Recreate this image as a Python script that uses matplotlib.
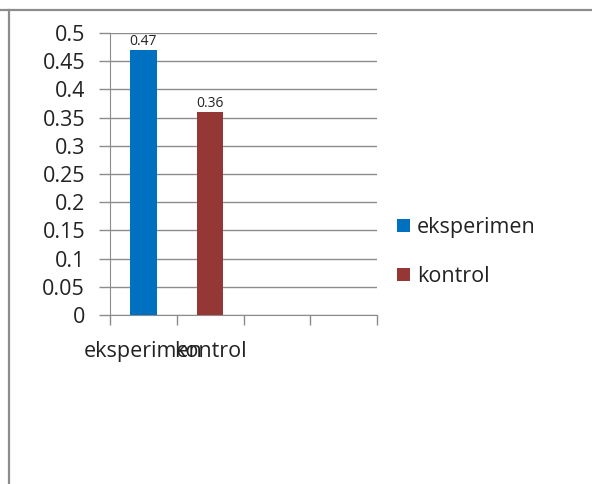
import matplotlib.pyplot as plt
from matplotlib.lines import Line2D

plt.rcParams['font.family'] = ['Open Sans', 'DejaVu Sans']

# chart data
categories = ['eksperimen', 'kontrol', '', '']
series_names = ['eksperimen', 'kontrol']
series_values = [0.47, 0.36]
series_colors = ['#0070C0', '#953735']

grid_col = '#8c8c8c'
txt_col = '#222222'

fig = plt.figure(figsize=(5.92, 4.84), dpi=100)
ax = fig.add_axes([110 / 592, 169 / 484, 267 / 592, 282 / 484])

# one bar per series, each sitting in its own category slot
for i, (name, val, col) in enumerate(zip(series_names, series_values, series_colors)):
    x = categories.index(name) + 0.5
    ax.bar(x, val, width=0.4, color=col, label=name, zorder=3)
    ax.text(x, val + 0.002, f'{val:.2f}', ha='center', va='bottom', fontsize=10,
            color=txt_col, zorder=4)

ax.set_xlim(0, len(categories))
ax.set_ylim(0, 0.5)
ax.set_yticks([i * 0.05 for i in range(11)])
ax.set_yticklabels(['0' if i == 0 else f'{i * 0.05:.2f}'.rstrip('0') for i in range(11)])
ax.yaxis.grid(True, color=grid_col, linewidth=1, zorder=0)

# slot boundaries get the tick marks, slot centres get the names
ax.set_xticks(range(len(categories) + 1))
ax.set_xticklabels([])
ax.set_xticks([i + 0.5 for i in range(len(categories))], minor=True)
ax.set_xticklabels(categories, minor=True)
ax.tick_params(axis='x', which='major', length=7, color=grid_col, width=1)
ax.tick_params(axis='x', which='minor', length=0, pad=19, labelsize=15.5, labelcolor=txt_col)
ax.tick_params(axis='y', length=8, color=grid_col, width=1, pad=10, labelsize=15.5,
               labelcolor=txt_col)

for side in ['top', 'right']:
    ax.spines[side].set_visible(False)
ax.spines['left'].set_color(grid_col)
ax.spines['bottom'].set_color(grid_col)

ax.legend(loc='center left', bbox_to_anchor=(386 / 592, 232 / 484),
          bbox_transform=fig.transFigure, frameon=False, fontsize=15.5,
          handlelength=0.6, handleheight=0.6, handletextpad=0.35,
          labelspacing=1.3, labelcolor=txt_col, borderpad=0)

# outer frame lines
fig.add_artist(Line2D([0, 1], [1 - 10 / 484] * 2, color=grid_col, linewidth=1.6,
                      transform=fig.transFigure))
fig.add_artist(Line2D([9 / 592] * 2, [0, 1 - 10 / 484], color=grid_col, linewidth=1.6,
                      transform=fig.transFigure))

fig.savefig('out.png', dpi=100)
